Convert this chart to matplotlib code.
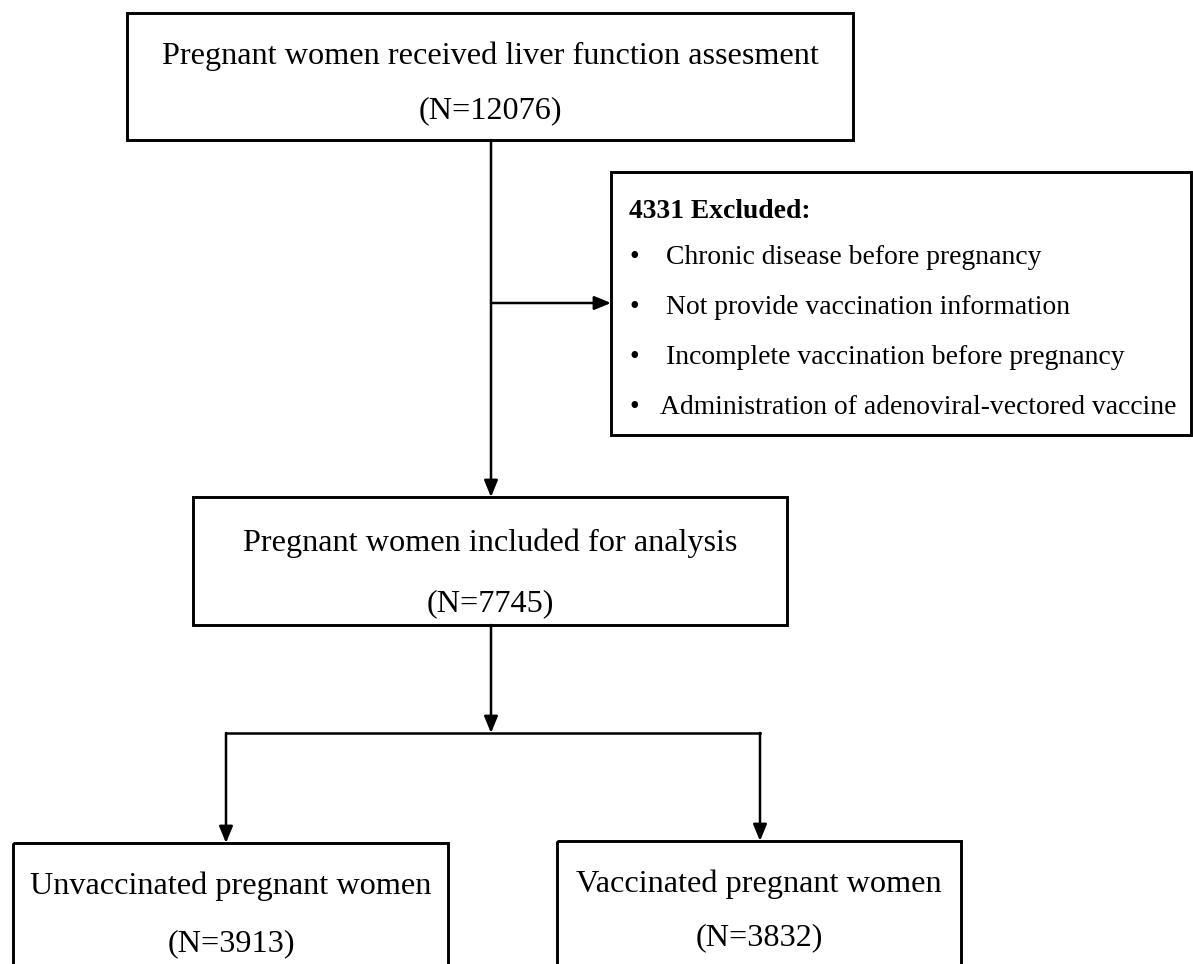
import matplotlib
matplotlib.use("Agg")
import matplotlib.pyplot as plt
from matplotlib.patches import Rectangle

# ---- content ----
top_lines = ["Pregnant women received liver function assesment", "(N=12076)"]
mid_lines = ["Pregnant women included for analysis", "(N=7745)"]
left_lines = ["Unvaccinated pregnant women", "(N=3913)"]
right_lines = ["Vaccinated pregnant women", "(N=3832)"]
excl_title = "4331 Excluded:"
excl_items = [
    "Chronic disease before pregnancy",
    "Not provide vaccination information",
    "Incomplete vaccination before pregnancy",
    "Administration of adenoviral-vectored vaccine",
]

W, H = 1193, 964
fig = plt.figure(figsize=(W / 100, H / 100), dpi=100)
ax = fig.add_axes([0, 0, 1, 1])
ax.set_xlim(0, W)
ax.set_ylim(H, 0)
ax.axis("off")

FONT = "Liberation Serif"
BOX_LW = 2.1
LINE_LW = 1.8
MAIN_FS = 23.2
EXCL_FS = 19.9


def box(x0, y0, x1, y1):
    ax.add_patch(Rectangle((x0, y0), x1 - x0, y1 - y0, fill=False,
                           edgecolor="black", lw=BOX_LW, clip_on=True,
                           joinstyle="miter"))


def line(x0, y0, x1, y1):
    ax.plot([x0, x1], [y0, y1], color="black", lw=LINE_LW,
            solid_capstyle="projecting")


def arrow(x0, y0, x1, y1):
    ax.annotate("", xy=(x1, y1), xytext=(x0, y0),
                arrowprops=dict(arrowstyle="-|>,head_length=0.8,head_width=0.33",
                                color="black", lw=LINE_LW,
                                shrinkA=0, shrinkB=0, mutation_scale=12.5))


def lines_text(cx, ys, texts):
    for y, t in zip(ys, texts):
        ax.text(cx, y, t, ha="center", va="center", fontsize=MAIN_FS,
                family=FONT, color="black")


# top box
box(127, 13, 853, 140)
lines_text(490, [56, 111], top_lines)

# main vertical arrow and side branch
arrow(491, 140, 491, 497)
arrow(491, 303, 611, 303)

# exclusion box
box(611, 172, 1191, 435)
ax.text(629, 211, excl_title, ha="left", va="center", fontsize=EXCL_FS,
        family=FONT, weight="bold")
item_y = [258, 308, 358, 408]
item_x = [666, 666, 666, 660]
for y, x, t in zip(item_y, item_x, excl_items):
    ax.text(634, y, "\u2022", ha="center", va="center", fontsize=EXCL_FS,
            family=FONT)
    ax.text(x, y, t, ha="left", va="center", fontsize=EXCL_FS, family=FONT)

# middle box
box(193, 497, 787, 625)
lines_text(490, [543, 604], mid_lines)

# split
arrow(491, 625, 491, 733)
line(226, 733, 760, 733)
arrow(226, 733, 226, 843)
arrow(760, 733, 760, 841)

# bottom boxes
box(13, 843, 448, 1010)
lines_text(231, [886, 944], left_lines)
box(557, 841, 961, 1010)
lines_text(759, [884, 938], right_lines)

fig.savefig("out.png", dpi=100, facecolor="white")
